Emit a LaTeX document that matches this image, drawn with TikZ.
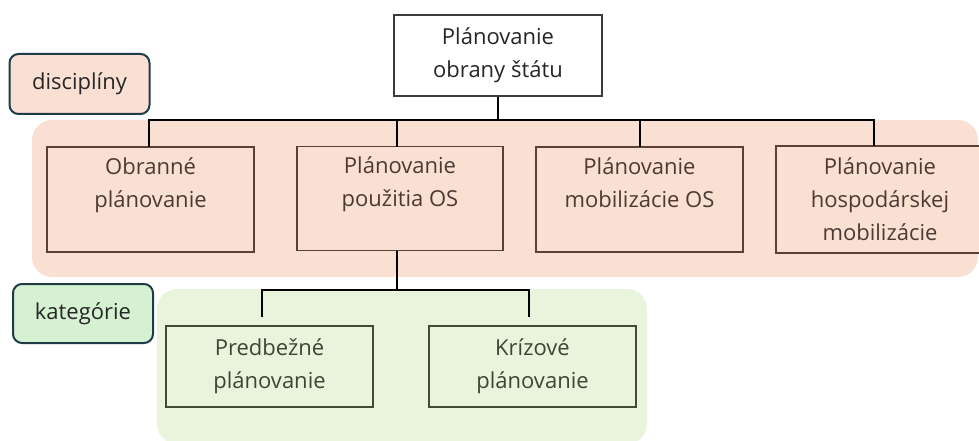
\documentclass[tikz,border=0pt]{standalone}
\usepackage{fontspec}
\setmainfont{Open Sans}
\definecolor{peachbg}{HTML}{FADFD3}
\definecolor{peachline}{HTML}{5B4036}
\definecolor{peachtext}{HTML}{4B3A34}
\definecolor{greenbg}{HTML}{E8F5DC}
\definecolor{greenlab}{HTML}{D6F1D1}
\definecolor{greenline}{HTML}{3F4B35}
\definecolor{greentext}{HTML}{3B4636}
\definecolor{labline}{HTML}{1E3B48}
\definecolor{toptext}{HTML}{262626}
\tikzset{
  box/.style={draw, rectangle, inner sep=0pt, align=center, line width=1.3pt,
    font=\fontsize{22}{33}\selectfont},
  topbox/.style={box, draw=toptext!90, fill=white, text=toptext},
  pbox/.style={box, draw=peachline, fill=peachbg, text=peachtext},
  gbox/.style={box, draw=greenline, fill=greenbg, text=greentext},
  labbox/.style={draw=labline, line width=2pt, rounded corners=9pt, inner sep=0pt,
    text=toptext, font=\fontsize{22}{33}\selectfont},
  conn/.style={line width=2.2pt, black},
}
\begin{document}
\begin{tikzpicture}[x=1pt,y=-1pt]
\useasboundingbox (0,0) rectangle (979,441);
% backgrounds
\fill[peachbg, rounded corners=20pt] (32,120) rectangle (978,277);
\fill[greenbg, rounded corners=20pt] (157,289) rectangle (647,444);
% labels
\node[labbox, fill=peachbg, minimum width=140pt, minimum height=60pt] (disc) at (79.5,84) {disciplíny};
\node[labbox, fill=greenlab, minimum width=140pt, minimum height=59pt] (kat) at (83,313.5) {kategórie};
% top
\node[topbox, minimum width=208pt, minimum height=81pt] (top) at (498,55.5) {Plánovanie\\obrany štátu};
% level 2
\node[pbox, minimum width=207pt, minimum height=105pt] (b1) at (150.5,199.5) {Obranné\\plánovanie\\\mbox{}};
\node[pbox, minimum width=206pt, minimum height=104pt] (b2) at (400,198.5) {Plánovanie\\použitia OS\\\mbox{}};
\node[pbox, minimum width=207pt, minimum height=105pt] (b3) at (639.5,199.5) {Plánovanie\\mobilizácie OS\\\mbox{}};
\node[pbox, minimum width=208pt, minimum height=107pt] (b4) at (880,199.5) {Plánovanie\\hospodárskej\\mobilizácie};
% level 3
\node[gbox, minimum width=207pt, minimum height=81pt] (c1) at (269.5,366.5) {Predbežné\\plánovanie};
\node[gbox, minimum width=207pt, minimum height=81pt] (c2) at (532.5,366.5) {Krízové\\plánovanie};
% connectors
\coordinate (busA) at (0,120);
\coordinate (busB) at (0,290);
\coordinate (d1) at (149,147);
\coordinate (d2) at (397,147);
\coordinate (d3) at (640,147);
\coordinate (d4) at (874,146);
\coordinate (e1) at (262,317);
\coordinate (e2) at (529,317);
\draw[conn] (top.south) -- (top.south |- busA);
\draw[conn, line cap=rect] (d1 |- busA) -- (d4 |- busA);
\draw[conn] (d1 |- busA) -- (d1);
\draw[conn] (d2 |- busA) -- (d2);
\draw[conn] (d3 |- busA) -- (d3);
\draw[conn] (d4 |- busA) -- (d4);
\draw[conn] (b2.south -| d2) -- (d2 |- busB);
\draw[conn, line cap=rect] (e1 |- busB) -- (e2 |- busB);
\draw[conn] (e1 |- busB) -- (e1);
\draw[conn] (e2 |- busB) -- (e2);
\end{tikzpicture}
\end{document}
